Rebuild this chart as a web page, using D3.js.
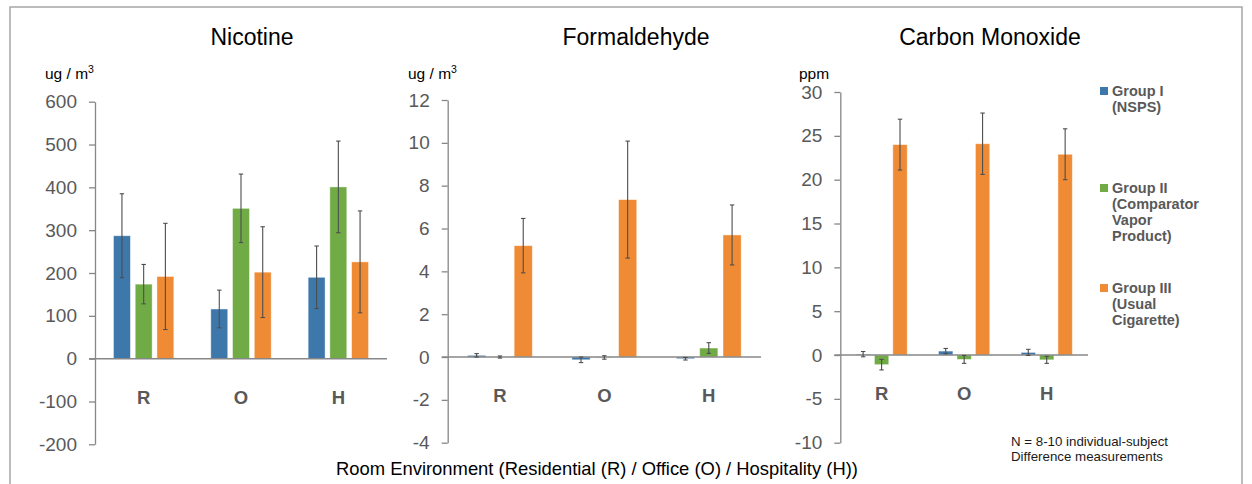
<!DOCTYPE html>
<html>
<head>
<meta charset="utf-8">
<script src="https://cdn.jsdelivr.net/npm/d3@7/dist/d3.min.js"></script>
<style>
  html, body { margin: 0; padding: 0; background: #fff; }
  svg { display: block; font-family: "Liberation Sans", Arial, sans-serif; }
</style>
</head>
<body>
<svg id="chart" width="1252" height="484"></svg>
<script>
// ---------------- DATA ----------------
const categories = ["R", "O", "H"];
const groups = ["Group I", "Group II", "Group III"];
const groupColors = ["#3E78AA", "#70AB46", "#F08B35"];

// means: [category][group]
const nicotineMean = [[287, 174, 192], [116, 351, 202], [190, 401, 226]];
const nicotineErr  = [[98, 46, 124], [44, 80, 106], [73, 107, 119]];
const nicotineTicks = [-200, -100, 0, 100, 200, 300, 400, 500, 600];

const formaldehydeMean = [[0.08, 0.0, 5.2], [-0.13, -0.02, 7.35], [-0.08, 0.42, 5.7]];
const formaldehydeErr  = [[0.08, 0.05, 1.27], [0.13, 0.08, 2.73], [0.06, 0.25, 1.4]];
const formaldehydeTicks = [-4, -2, 0, 2, 4, 6, 8, 10, 12];

const coMean = [[0.1, -1.1, 24.0], [0.45, -0.5, 24.1], [0.3, -0.55, 22.9]];
const coErr  = [[0.3, 0.6, 2.9], [0.3, 0.45, 3.5], [0.35, 0.4, 2.9]];
const coTicks = [-10, -5, 0, 5, 10, 15, 20, 25, 30];

const panelTitles = ["Nicotine", "Formaldehyde", "Carbon Monoxide"];
const unitLabels = [["ug / m", "3"], ["ug / m", "3"], ["ppm", ""]];

const legendLines = [
  ["Group I", "(NSPS)"],
  ["Group II", "(Comparator", "Vapor", "Product)"],
  ["Group III", "(Usual", "Cigarette)"]
];
const xAxisTitle = "Room Environment (Residential (R) / Office (O) / Hospitality (H))";
const footnote = ["N = 8-10 individual-subject", "Difference measurements"];

// ---------------- LAYOUT ----------------
const svg = d3.select("#chart");
const axisColor = "#878787";
const textGray = "#595959";

// outer frame
svg.append("rect")
  .attr("x", 10).attr("y", 7)
  .attr("width", 1232).attr("height", 490)
  .attr("fill", "none").attr("stroke", "#a6a6a6").attr("stroke-width", 1.5);

const panels = [
  { mean: nicotineMean, err: nicotineErr, ticks: nicotineTicks,
    x0: 95, x1: 387, yTop: 101.7, yBot: 444.3, titleX: 252, unitX: 45 },
  { mean: formaldehydeMean, err: formaldehydeErr, ticks: formaldehydeTicks,
    x0: 447.7, x1: 761, yTop: 100, yBot: 442.7, titleX: 636, unitX: 408 },
  { mean: coMean, err: coErr, ticks: coTicks,
    x0: 840.3, x1: 1088, yTop: 92, yBot: 442.7, titleX: 990, unitX: 799 }
];

panels.forEach((p, pi) => {
  const g = svg.append("g");
  const y = d3.scaleLinear()
    .domain([d3.min(p.ticks), d3.max(p.ticks)])
    .range([p.yBot, p.yTop]);
  const x = d3.scaleBand().domain(categories).range([p.x0, p.x1]).padding(0);
  const xs = d3.scaleBand().domain(groups).range([0, x.bandwidth()])
    .paddingInner(0.22).paddingOuter(0.85);

  // title
  g.append("text")
    .attr("x", p.titleX).attr("y", 45)
    .attr("text-anchor", "middle")
    .attr("font-size", 23).attr("fill", "#000")
    .text(panelTitles[pi]);

  // unit label
  const ut = g.append("text")
    .attr("x", p.unitX).attr("y", 79)
    .attr("font-size", 15.5).attr("fill", "#000");
  ut.append("tspan").text(unitLabels[pi][0]);
  if (unitLabels[pi][1]) {
    ut.append("tspan").attr("dy", -6).attr("font-size", 10.5).text(unitLabels[pi][1]);
  }

  // y axis
  const ax = g.append("g")
    .attr("transform", `translate(${p.x0},0)`)
    .call(d3.axisLeft(y).tickValues(p.ticks).tickFormat(d => String(d))
      .tickSize(6).tickSizeOuter(0).tickPadding(12));
  ax.select(".domain").attr("stroke", axisColor).attr("stroke-width", 1.3);
  ax.selectAll(".tick line").attr("stroke", axisColor).attr("stroke-width", 1.3);
  ax.selectAll(".tick text")
    .attr("font-size", 19).attr("fill", textGray)
    .attr("font-family", "'Liberation Sans', Arial, sans-serif");

  // bars
  categories.forEach((c, ci) => {
    groups.forEach((gr, gi) => {
      const v = p.mean[ci][gi];
      const bx = x(c) + xs(gr);
      g.append("rect")
        .attr("x", bx).attr("width", xs.bandwidth())
        .attr("y", Math.min(y(v), y(0)))
        .attr("height", Math.abs(y(v) - y(0)))
        .attr("fill", groupColors[gi])
        .attr("stroke", "#fff").attr("stroke-opacity", 0.55).attr("stroke-width", 0.8);
    });
  });

  // zero line
  g.append("line")
    .attr("x1", p.x0 - 6).attr("x2", p.x1)
    .attr("y1", y(0)).attr("y2", y(0))
    .attr("stroke", axisColor).attr("stroke-width", 1.5);

  // error bars
  categories.forEach((c, ci) => {
    groups.forEach((gr, gi) => {
      const v = p.mean[ci][gi];
      const e = p.err[ci][gi];
      const cx = x(c) + xs(gr) + xs.bandwidth() / 2;
      const eg = g.append("g").attr("stroke", "#4d4d4d").attr("stroke-width", 1.1);
      eg.append("line").attr("x1", cx).attr("x2", cx).attr("y1", y(v - e)).attr("y2", y(v + e));
      [v - e, v + e].forEach(t => {
        eg.append("line").attr("x1", cx - 2.2).attr("x2", cx + 2.2).attr("y1", y(t)).attr("y2", y(t));
      });
    });
  });

  // category labels
  categories.forEach(c => {
    g.append("text")
      .attr("x", x(c) + x.bandwidth() / 2)
      .attr("y", y(0) + 45)
      .attr("text-anchor", "middle")
      .attr("font-size", 18.5).attr("font-weight", "bold").attr("fill", textGray)
      .text(c);
  });
});

// x axis title
svg.append("text")
  .attr("x", 597).attr("y", 475)
  .attr("text-anchor", "middle")
  .attr("font-size", 18.4).attr("fill", "#000")
  .text(xAxisTitle);

// legend
const legendTops = [91, 188, 288];
legendLines.forEach((lines, i) => {
  const lg = svg.append("g");
  lg.append("rect")
    .attr("x", 1100).attr("y", legendTops[i] - 4)
    .attr("width", 8).attr("height", 8)
    .attr("fill", groupColors[i]);
  lines.forEach((t, li) => {
    lg.append("text")
      .attr("x", 1112).attr("y", legendTops[i] + li * 16 + 5)
      .attr("font-size", 14.5).attr("font-weight", "bold").attr("fill", textGray)
      .text(t);
  });
});

// footnote
footnote.forEach((t, i) => {
  svg.append("text")
    .attr("x", 1011).attr("y", 446 + i * 15)
    .attr("font-size", 13.3).attr("fill", "#1a1a1a")
    .text(t);
});
</script>
</body>
</html>
